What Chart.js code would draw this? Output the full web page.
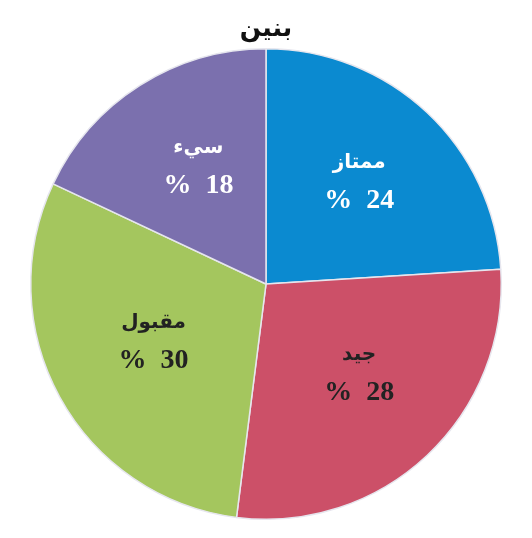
<!DOCTYPE html>
<html>
<head>
<meta charset="utf-8">
<script src="https://cdn.jsdelivr.net/npm/chart.js@4/dist/chart.umd.min.js"></script>
<style>
  html, body { margin: 0; padding: 0; background: #fff; }
  #wrap { width: 532px; height: 538px; }
</style>
</head>
<body>
<div id="wrap"><canvas id="pieCanvas"></canvas></div>
<script>
// Values
const categories = ['ممتاز', 'جيد', 'مقبول', 'سيء'];
const percents = [24, 28, 30, 18];
const sliceColors = ['#0b8ad0', '#cc5068', '#a4c65e', '#7b70ae'];
const labelColors = ['#ffffff', '#222222', '#222222', '#ffffff'];

// Draw the name and the percentage inside each slice
const sliceLabels = {
    id: 'sliceLabels',
    afterDatasetsDraw(chart) {
        const ctx = chart.ctx;
        const arcs = chart.getDatasetMeta(0).data;
        ctx.save();
        ctx.textAlign = 'center';
        ctx.textBaseline = 'middle';
        arcs.forEach(function(arc, i) {
            const mid = (arc.startAngle + arc.endAngle) / 2;
            const dist = arc.outerRadius * 0.56;
            const x = arc.x + Math.cos(mid) * dist + 3;
            const y = arc.y + Math.sin(mid) * dist - 6;
            ctx.fillStyle = labelColors[i];
            ctx.font = 'bold 20px "DejaVu Sans"';
            ctx.fillText(categories[i], x, y - 19);
            ctx.font = 'bold 28px "Liberation Serif"';
            ctx.fillText('%  ' + percents[i], x, y + 19);
        });
        ctx.restore();
    }
};

new Chart(document.getElementById('pieCanvas'), {
    type: 'pie',
    data: {
        labels: categories,
        datasets: [{
            data: percents,
            backgroundColor: sliceColors,
            borderColor: '#e6e6ee',
            borderWidth: 1.5
        }]
    },
    options: {
        responsive: true,
        maintainAspectRatio: false,
        animation: false,
        layout: { padding: { top: 4, bottom: 18 } },
        plugins: {
            legend: { display: false },
            tooltip: { enabled: false },
            title: {
                display: true,
                text: 'بنين',
                color: '#111',
                font: { family: 'DejaVu Sans', size: 25, weight: 'bold' },
                padding: { top: 10, bottom: 4 }
            }
        }
    },
    plugins: [sliceLabels]
});
</script>
</body>
</html>
